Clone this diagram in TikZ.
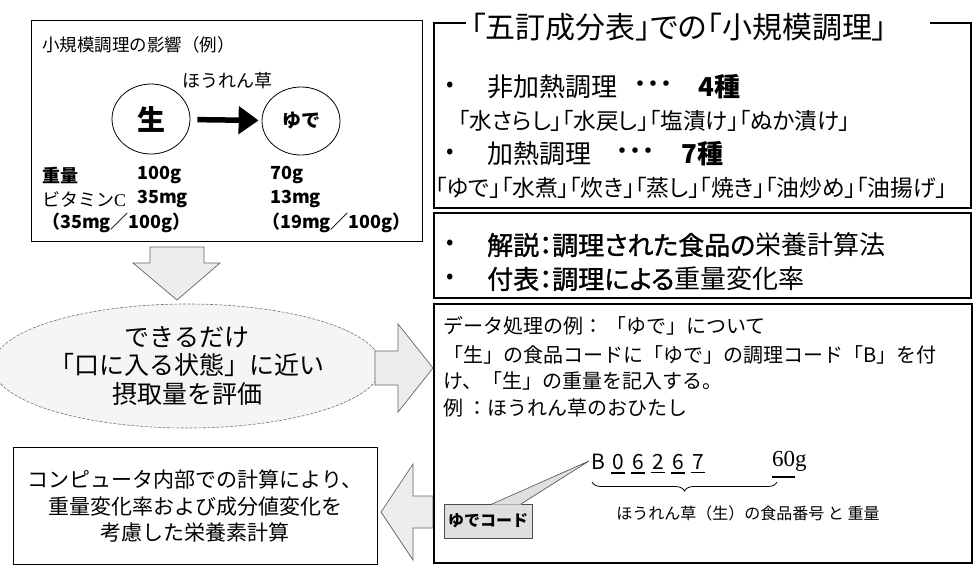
\documentclass[tikz,border=0pt]{standalone}
\usepackage{fontspec}
\setmainfont{Noto Sans CJK JP}
\newfontfamily\jpp{Noto Sans CJK JP}[RawFeature=+palt]
\newfontfamily\jpheavy{Noto Sans CJK JP}[RawFeature=+palt, FakeBold=1.3]
\newfontfamily\serifL{Liberation Serif}
\usetikzlibrary{shapes.geometric,decorations.pathreplacing,arrows.meta,calc}
\tikzset{
  lbl/.style={inner sep=0pt, anchor=west},
  mid/.style={inner sep=0pt},
  frame/.style={draw=black, line width=1.2pt},
  thinframe/.style={draw=black, line width=0.9pt},
  blockarrow/.style={draw=black!60, line width=0.7pt, fill=gray!14},
  circ/.style={draw=black, line width=0.8pt, ellipse, inner sep=0pt},
  bigarrow/.style={line width=5.5pt, -{Triangle[length=20pt,width=27pt]}, shorten <=7pt, shorten >=3pt},
  fsz/.style={font=\fontsize{#1}{#1}\selectfont},
}
\begin{document}
\begin{tikzpicture}[x=1pt,y=-1pt]
\useasboundingbox (0,0) rectangle (976,566);
\fill[white] (0,0) rectangle (976,566);

% ---------- top-left box ----------
\draw[thinframe] (31,20) rectangle (422,241);
\node[lbl, fsz=17.5] (tltitle) at (42,45) {小規模調理の影響（例）};
\node[mid, fsz=18] (spin) at (227,81) {ほうれん草};
\node[circ, minimum width=78pt, minimum height=70pt] (nama) at (151,119) {\fontsize{28}{28}\selectfont\bfseries 生};
\node[circ, minimum width=78pt, minimum height=68pt] (yude) at (301,121) {\fontsize{19}{19}\selectfont\bfseries ゆで};
\draw[bigarrow] (nama) -- (yude);
\node[lbl, fsz=18] (w1) at (42,175) {\bfseries 重量};
\node[lbl, fsz=18] (w2) at (137,175) {\bfseries 100g};
\node[lbl, fsz=18] (w3) at (270,175) {\bfseries 70g};
\node[lbl, fsz=18] (v1) at (42,199) {ビタミン{\serifL C}};
\node[lbl, fsz=18] (v2) at (137,199) {\bfseries 35mg};
\node[lbl, fsz=18] (v3) at (270,199) {\bfseries 13mg};
\node[lbl, fsz=18] (r1) at (42,223) {\bfseries （35mg／100g）};
\node[lbl, fsz=18] (r2) at (262,223) {\bfseries （19mg／100g）};

% ---------- down arrow ----------
\filldraw[blockarrow] (150,247) -- (204,247) -- (204,263) -- (220,263) -- (177,300) -- (133,263) -- (150,263) -- cycle;

% ---------- ellipse ----------
\node[ellipse, draw=black!55, dash pattern=on 3pt off 1.5pt, line width=0.6pt, fill=gray!8,
      minimum width=360pt, minimum height=124pt, inner sep=0pt, align=center,
      font=\fontsize{25}{28.5}\selectfont] (eval) at (187,366)
      {できるだけ\\「口に入る状態」に近い\\摂取量を評価};

% ---------- right arrow ----------
\filldraw[blockarrow] (375,351) -- (398,351) -- (398,324) -- (433,368) -- (398,412) -- (398,385) -- (375,385) -- cycle;

% ---------- bottom-left box ----------
\draw[thinframe] (13,447) rectangle (377,564);
\node[mid, align=center, font=\fontsize{21}{26.5}\selectfont] (calc) at (195,506)
  {コンピュータ内部での計算により、\\重量変化率および成分値変化を\\考慮した栄養素計算};

% ---------- left arrow ----------
\filldraw[blockarrow] (433,496) -- (413,496) -- (413,464) -- (381,512) -- (413,560) -- (413,528) -- (433,528) -- cycle;

% ---------- top-right box ----------
\draw[frame] (466,23) -- (434,23) -- (434,208) -- (971,208) -- (971,23) -- (930,23);
\node[mid, fsz=30] (trtitle) at (679,27) {\jpp 「五訂成分表」での「小規模調理」};
\node[lbl, fsz=22] (b1) at (446,87) {•};
\node[lbl, fsz=26] (t1) at (487,87) {非加熱調理};
\node[lbl, fsz=26] (d1) at (634,87) {\jpp ・・・};
\node[lbl, fsz=26] (n1) at (698,87) {\bfseries 4種};
\node[lbl, fsz=22.6] (s1) at (458,121) {\jpp 「水さらし」「水戻し」「塩漬け」「ぬか漬け」};
\node[lbl, fsz=22] (b2) at (446,154) {•};
\node[lbl, fsz=26] (t2) at (487,154) {加熱調理};
\node[lbl, fsz=26] (d2) at (616,154) {\jpp ・・・};
\node[lbl, fsz=26] (n2) at (681,154) {\bfseries 7種};
\node[lbl, fsz=22.8] (s2) at (435,188) {\jpp 「ゆで」「水煮」「炊き」「蒸し」「焼き」「油炒め」「油揚げ」};

% ---------- explanation box ----------
\draw[frame] (434,213) rectangle (971,298);
\node[lbl, fsz=22] (b3) at (446,245) {•};
\node[lbl, fsz=26] (e1) at (487,245) {{\jpheavy 解説：調理された食品の}{\jpp 栄養計算法}};
\node[lbl, fsz=22] (b4) at (446,279) {•};
\node[lbl, fsz=26] (e2) at (487,279) {{\jpheavy 付表：調理による}{\jpp 重量変化率}};

% ---------- data box ----------
\draw[frame] (434,304) rectangle (972,563);
\node[lbl, fsz=20] (p1) at (443,326) {データ処理の例：\,「ゆで」について};
\node[lbl, fsz=20] (p2) at (443,355) {「生」の食品コードに「ゆで」の調理コード「B」を付};
\node[lbl, fsz=20] (p3) at (443,381) {け、「生」の重量を記入する。};
\node[lbl, fsz=20] (p4) at (443,408) {例 ：ほうれん草のおひたし};

\node[mid, fsz=21] (cB) at (598,462) {B};
\node[mid, fsz=21] (c0) at (618,462) {0};
\node[mid, fsz=21] (c6) at (638,462) {6};
\node[mid, fsz=21] (c2) at (658,462) {2};
\node[mid, fsz=21] (c6b) at (678,462) {6};
\node[mid, fsz=21] (c7) at (698,462) {7};
\foreach \c in {c0,c6,c2,c6b,c7}{
  \draw[line width=1.2pt] ($(\c.south west)+(-1,3)$) -- ($(\c.south east)+(1,3)$);
}
\node[lbl, fsz=23] (wt) at (772,461) {\serifL 60g};
\draw[line width=1.2pt] (772,477) -- (795,477);
\draw[line width=0.8pt, decorate, decoration={brace, mirror, amplitude=9pt}] (592,482) -- (777,482);
\node[mid, fsz=16] (cap) at (748,513) {ほうれん草（生）の食品番号 と 重量};

% ---------- callout ゆでコード ----------
\node[draw=black!70, line width=0.6pt, fill=gray!25, minimum width=88pt, minimum height=34pt, inner sep=0pt,
      font=\fontsize{16}{16}\selectfont\bfseries] (yc) at (488,521) {ゆでコード};
\coordinate (ctip) at (589,461);
\fill[gray!25] (492,504.5) -- (ctip) -- (521,504.5) -- cycle;
\draw[black!70, line width=0.6pt] (492,504) -- (ctip) -- (521,504);
\end{tikzpicture}
\end{document}
